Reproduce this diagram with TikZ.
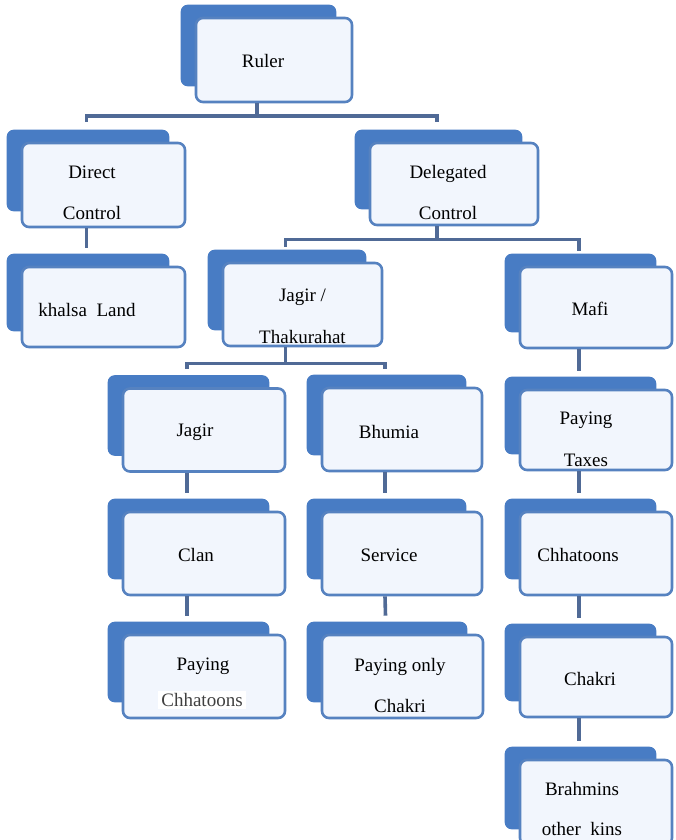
\documentclass[tikz,border=0pt]{standalone}
\usepackage{fontspec}
\setmainfont{Liberation Serif}
\usepackage{tikz}
\usetikzlibrary{calc, backgrounds}
\definecolor{backBlue}{RGB}{72,124,196}
\definecolor{edgeBlue}{RGB}{86,130,192}
\definecolor{paleBlue}{RGB}{242,246,253}
\definecolor{linkGray}{RGB}{80,106,150}

\begin{document}
\begin{tikzpicture}[x=1pt, y=-1pt,
		fbox/.style={draw=edgeBlue, line width=2.6pt, fill=paleBlue, rounded corners=7pt, minimum width=162pt, minimum height=83pt, inner sep=0pt},
		lbl/.style={font=\fontsize{19}{23}\selectfont, align=center, inner sep=0pt},
		link/.style={draw=linkGray, line width=3.6pt}]
	\useasboundingbox (0,0) rectangle (675,840);
	\clip (0,0) rectangle (675,840);
	% top levels
	\node[fbox, minimum width=156pt, minimum height=84pt] (ruler) at (274,60) [label={[lbl,xshift=-11pt,yshift=-1pt]center:Ruler}] {};
	\node[fbox, minimum width=163pt, minimum height=84pt] (direct) at (103.5,185) [label={[lbl,xshift=-11.5pt,yshift=-7.5pt]center:{Direct\\[18pt]Control}}] {};
	\node[fbox, minimum width=163pt, minimum height=80pt] (khalsa) at (103.5,307) [label={[lbl,xshift=-16.5pt,yshift=-3pt]center:khalsa~~Land}] {};
	\node[fbox, minimum width=168pt, minimum height=82pt] (deleg) at (454,184) [label={[lbl,xshift=-6pt,yshift=-8.5pt]center:{Delegated\\[18pt]Control}}] {};
	\node[fbox, minimum width=159pt] (thak) at (302.5,304.5) [label={[lbl,yshift=-11.5pt]center:{Jagir /\\[19pt]Thakurahat}}] {};
	\node[fbox, minimum width=152pt, minimum height=81pt] (mafi) at (596,307.5) [label={[lbl,xshift=-6pt,yshift=-1.5pt]center:Mafi}] {};
	% jagir branch
	\node[fbox] (jagir) at (204,430) [label={[lbl,xshift=-9pt,yshift=-2pt]center:Jagir}] {};
	\node[fbox] (clan) at (204,553.5) [label={[lbl,xshift=-8pt,yshift=-1.5pt]center:Clan}] {};
	\node[fbox] (payc) at (204,676.5) [label={[lbl,xshift=-1pt,yshift=10.5pt]center:Paying},
		label={[lbl,fill=white,text=black!75,inner xsep=3pt,inner ysep=2pt,xshift=-2pt,yshift=-23.5pt]center:Chhatoons}] {};
	% bhumia branch
	\node[fbox, minimum width=160pt] (bhumia) at (402,429.5) [label={[lbl,xshift=-13pt,yshift=-2pt]center:Bhumia}] {};
	\node[fbox, minimum width=160pt] (service) at (402,553.5) [label={[lbl,xshift=-13pt,yshift=-1.5pt]center:Service}] {};
	\node[fbox, minimum width=161pt] (payonly) at (402.5,676.5) [label={[lbl,xshift=-2.5pt,yshift=-9pt]center:{Paying~only\\[18pt]Chakri}}] {};
	% mafi branch
	\node[fbox, minimum width=152pt, minimum height=80pt] (taxes) at (596,430) [label={[lbl,xshift=-10pt,yshift=-9pt]center:{Paying\\[19pt]Taxes}}] {};
	\node[fbox, minimum width=152pt] (chhat) at (596,553.5) [label={[lbl,xshift=-18pt,yshift=-1.5pt]center:Chhatoons}] {};
	\node[fbox, minimum width=152pt, minimum height=80pt] (chakri) at (596,677) [label={[lbl,xshift=-6pt,yshift=-2pt]center:Chakri}] {};
	\node[fbox, minimum width=152pt, minimum height=85pt] (brahm) at (596,802.5) [label={[lbl,xshift=-14pt,yshift=-6.5pt]center:{Brahmins\\[17pt]other~~kins}}] {};
	% blue backs
	\begin{scope}[on background layer]
		\fill[white] (0,0) rectangle (675,840);
		\foreach \b in {ruler,direct,khalsa,deleg,thak,mafi,jagir,clan,payc,bhumia,service,payonly,taxes,chhat,chakri,brahm}
			\fill[backBlue, rounded corners=7pt] ($(\b.north west)+(-14,-12)$) rectangle ($(\b.south east)+(-17,-17)$);
	\end{scope}
	% connectors
	\draw[link] ([xshift=-17pt]ruler.south) -- ++(0,13) coordinate (rulerBus);
	\draw[link] ([xshift=-17pt,yshift=20pt]direct.north) |- (rulerBus) -| ([xshift=-17pt,yshift=20pt]deleg.north);
	\draw[link] ([xshift=-17pt]deleg.south) -- ++(0,13) coordinate (delegBus);
	\draw[link] ([xshift=-17pt,yshift=15pt]thak.north) |- (delegBus) -| ([xshift=-17pt,yshift=15pt]mafi.north);
	\draw[link] ([xshift=-17pt]thak.south) -- ++(0,16) coordinate (thakBus);
	\draw[link] ([xshift=-17pt,yshift=18pt]jagir.north) |- (thakBus) -| ([xshift=-17pt,yshift=18pt]bhumia.north);
	\foreach \a/\b in {direct/khalsa,jagir/clan,clan/payc,bhumia/service,service/payonly,mafi/taxes,taxes/chhat,chhat/chakri,chakri/brahm}
		\draw[link] ([xshift=-17pt]\a.south) -- ([xshift=-17pt,yshift=18pt]\b.north);
\end{tikzpicture}
\end{document}
